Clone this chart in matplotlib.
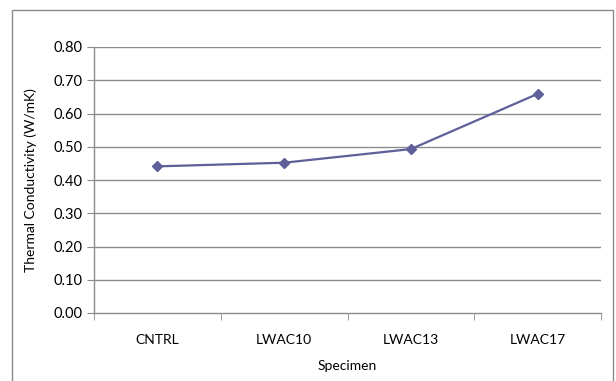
import matplotlib
matplotlib.use("Agg")
import matplotlib.pyplot as plt
from matplotlib.patches import Rectangle
import numpy as np

categories = ["CNTRL", "LWAC10", "LWAC13", "LWAC17"]
values = [0.441, 0.452, 0.493, 0.659]
yticks = [0.0, 0.1, 0.2, 0.3, 0.4, 0.5, 0.6, 0.7, 0.8]

plt.rcParams['font.family'] = ['Lato', 'DejaVu Sans']

W, H = 616, 381
fig = plt.figure(figsize=(W/100, H/100), dpi=100)
ax = fig.add_axes([94/W, 1-313/H, (601-94)/W, (313-47)/H])

grid_c = '#8c8c8c'
x = np.arange(len(categories))
ax.plot(x, values, color='#5f5f9a', lw=1.6, marker='D', markersize=5.5, zorder=3)

ax.set_xlim(-0.5, len(categories)-0.5)
ax.set_ylim(0, 0.8)
ax.set_yticks(yticks)
ax.set_yticklabels([f"{v:.2f}" for v in yticks], fontsize=10.5)
ax.set_xticks(x)
ax.set_xticklabels(categories, fontsize=10)
ax.set_xticks(np.arange(-0.5, len(categories), 1.0), minor=True)
ax.tick_params(axis='x', which='major', length=0, pad=15)
ax.tick_params(axis='x', which='minor', length=5, color=grid_c, direction='out')
ax.tick_params(axis='y', length=5, color=grid_c, direction='out', pad=3)
for yv in yticks[1:]:
    ax.axhline(yv, color=grid_c, lw=1, zorder=1)
for s in ['top', 'right']:
    ax.spines[s].set_visible(False)
for s in ['left', 'bottom']:
    ax.spines[s].set_color(grid_c)
    ax.spines[s].set_linewidth(1)

ax.set_xlabel("Specimen", fontsize=10, labelpad=10)
ax.set_ylabel("Thermal Conductivity (W/mK)", fontsize=10, labelpad=12)

fig.patches.append(Rectangle((12/W, -0.05), (613-12)/W, 1.05-10/H,
                             transform=fig.transFigure, fill=False,
                             edgecolor='#8a8a8a', lw=1))

fig.savefig("out.png", dpi=100)
